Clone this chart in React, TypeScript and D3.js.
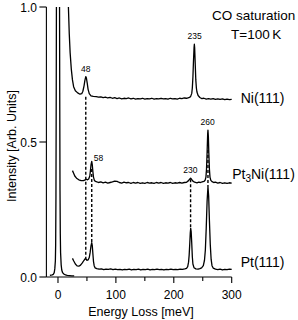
import React from "react";
import * as d3 from "d3";

// ---- Data (energy loss in meV, intensity in arb. units) ----
const elasticPeak: [number, number][] = [
  [-14, 0.006], [-12, 0.007], [-10, 0.008], [-8, 0.010], [-6.5, 0.016], [-5.5, 0.03],
  [-4.5, 0.06], [-4, 0.12], [-3.5, 0.3], [-3, 0.7], [-2.5, 1.2], [-2, 2.0], [-1, 3.5],
  [0, 4.5], [1, 3.5], [2, 2.0], [2.5, 1.2], [3, 0.7], [3.5, 0.32], [4, 0.16], [4.5, 0.09],
  [5.5, 0.045], [6.5, 0.026], [8, 0.016], [10, 0.011], [13, 0.008], [16, 0.006],
  [20, 0.005], [24, 0.004], [28, 0.004],
];

const niSpectrum: [number, number][] = [
  [16.5, 1.2], [18, 1.0], [19.5, 0.9], [21, 0.83], [23, 0.77], [25, 0.73], [27, 0.705],
  [30, 0.69], [34, 0.682], [38, 0.677], [41, 0.679], [43, 0.688], [45, 0.708], [46.5, 0.728],
  [48, 0.742], [49, 0.738], [50.5, 0.718], [52, 0.695], [54, 0.679], [57, 0.671], [61, 0.669],
  [66, 0.668], [70, 0.666], [74, 0.667], [78, 0.664], [82, 0.666], [86, 0.663], [90, 0.665],
  [94, 0.662], [98, 0.664], [102, 0.661], [106, 0.663], [110, 0.660], [114, 0.662],
  [118, 0.661], [122, 0.663], [126, 0.660], [130, 0.662], [134, 0.659], [138, 0.661],
  [142, 0.660], [146, 0.662], [150, 0.659], [154, 0.661], [158, 0.660], [162, 0.662],
  [166, 0.659], [170, 0.661], [174, 0.660], [178, 0.662], [182, 0.660], [186, 0.661],
  [190, 0.659], [194, 0.662], [198, 0.660], [202, 0.661], [206, 0.659], [210, 0.662],
  [214, 0.661], [218, 0.663], [222, 0.662], [226, 0.664], [229, 0.668], [231, 0.68],
  [232, 0.70], [233, 0.74], [234, 0.80], [235, 0.85], [235.5, 0.862], [236, 0.85],
  [237, 0.79], [238, 0.73], [239, 0.70], [240, 0.685], [242, 0.672], [245, 0.665],
  [248, 0.661], [252, 0.662], [256, 0.659], [260, 0.661], [264, 0.659], [268, 0.661],
  [272, 0.658], [276, 0.660], [280, 0.658], [284, 0.660], [288, 0.657], [292, 0.659],
  [296, 0.657], [300, 0.658],
];

const pt3niSpectrum: [number, number][] = [
  [25, 0.394], [27, 0.384], [29, 0.374], [32, 0.366], [36, 0.360], [40, 0.357], [44, 0.357],
  [47, 0.360], [49, 0.362], [51, 0.360], [53, 0.363], [55, 0.374], [56, 0.393], [57, 0.415],
  [58.3, 0.428], [59.3, 0.414], [60.3, 0.39], [61.3, 0.37], [63, 0.357], [66, 0.353],
  [70, 0.350], [74, 0.352], [78, 0.349], [82, 0.351], [86, 0.348], [90, 0.350], [94, 0.352],
  [98, 0.355], [102, 0.354], [106, 0.350], [110, 0.348], [114, 0.351], [118, 0.349],
  [122, 0.350], [126, 0.347], [130, 0.350], [134, 0.348], [138, 0.350], [142, 0.347],
  [146, 0.349], [150, 0.347], [154, 0.350], [158, 0.348], [162, 0.349], [166, 0.347],
  [170, 0.350], [174, 0.348], [178, 0.350], [182, 0.347], [186, 0.349], [190, 0.348],
  [194, 0.350], [198, 0.347], [202, 0.349], [206, 0.348], [210, 0.350], [214, 0.348],
  [218, 0.350], [222, 0.351], [225, 0.356], [227, 0.361], [229, 0.366], [231, 0.361],
  [233, 0.355], [236, 0.351], [240, 0.349], [243, 0.351], [246, 0.350], [249, 0.352],
  [252, 0.354], [254, 0.358], [255.5, 0.37], [256.5, 0.40], [257.5, 0.46], [258.5, 0.53],
  [259, 0.544], [259.7, 0.52], [260.5, 0.46], [261.5, 0.40], [262.5, 0.37], [264, 0.358],
  [266, 0.353], [269, 0.350], [272, 0.351], [276, 0.348], [280, 0.350], [284, 0.347],
  [288, 0.349], [292, 0.347], [296, 0.349], [300, 0.348],
];

const ptSpectrum: [number, number][] = [
  [25, 0.069], [27, 0.060], [30, 0.048], [33, 0.041], [36, 0.040], [39, 0.044], [42, 0.052],
  [45, 0.062], [47, 0.068], [48.5, 0.066], [50, 0.062], [52, 0.063], [54, 0.072],
  [55.5, 0.090], [57, 0.115], [58.3, 0.127], [59.3, 0.115], [60.3, 0.085], [61.3, 0.058],
  [62.5, 0.042], [64, 0.034], [67, 0.031], [71, 0.029], [75, 0.030], [79, 0.027],
  [83, 0.029], [87, 0.028], [91, 0.030], [95, 0.027], [99, 0.029], [103, 0.027],
  [107, 0.028], [111, 0.026], [115, 0.028], [119, 0.027], [123, 0.029], [127, 0.026],
  [131, 0.028], [135, 0.027], [139, 0.029], [143, 0.026], [147, 0.028], [151, 0.027],
  [155, 0.029], [159, 0.026], [163, 0.028], [167, 0.027], [171, 0.029], [175, 0.027],
  [179, 0.028], [183, 0.026], [187, 0.028], [191, 0.027], [195, 0.029], [199, 0.027],
  [203, 0.028], [207, 0.027], [211, 0.029], [215, 0.028], [219, 0.030], [222, 0.032],
  [224, 0.038], [225.5, 0.055], [226.5, 0.08], [227.5, 0.12], [228.5, 0.165], [229.2, 0.18],
  [230, 0.168], [231, 0.125], [232, 0.075], [233, 0.048], [235, 0.034], [238, 0.030],
  [242, 0.029], [245, 0.031], [248, 0.034], [251, 0.042], [253, 0.062], [254.5, 0.10],
  [256, 0.18], [257.5, 0.28], [259, 0.334], [260.2, 0.30], [261.5, 0.21], [263, 0.12],
  [264.5, 0.065], [266, 0.042], [268, 0.033], [272, 0.029], [276, 0.027], [280, 0.029],
  [284, 0.026], [288, 0.028], [292, 0.027], [296, 0.029], [300, 0.028],
];

const xMajorTicks = [0, 100, 200, 300];
const xMinorTicks = [50, 150, 250];
const yTicks = [0.0, 0.5, 1.0];

const peakLabels = ["48", "235", "58", "260", "230"];
const peakLabelEnergies = [48, 236, 70, 258.5, 228.5];
const peakLabelIntensities = [0.742, 0.862, 0.41, 0.544, 0.366];

const dashEnergies = [48, 58.3, 229, 259];
const dashTops = [0.668, 0.40, 0.362, 0.47];
const dashBottoms = [0.066, 0.127, 0.18, 0.334];

const seriesNames = ["Ni(111)", "Pt3Ni(111)", "Pt(111)"];
const seriesBaselines = [0.662, 0.35, 0.028];

const titleLines = ["CO saturation", "T=100\u2009K"];

const W = 298;
const H = 320;
const FONT = "'Liberation Sans', Arial, Helvetica, sans-serif";

export default function App() {
  const x = d3.scaleLinear().domain([-20, 300]).range([46.4, 231.7]);
  const y = d3.scaleLinear().domain([0, 1]).range([277, 7]);
  const line = d3
    .line<[number, number]>()
    .x((d) => x(d[0]))
    .y((d) => y(d[1]));

  const spectra = [elasticPeak, niSpectrum, pt3niSpectrum, ptSpectrum];
  const labelOffsets = [
    { dx: 9, dy: 5 },
    { dx: 0.5, dy: -4 },
    { dx: 9, dy: -2 },
  ];

  return (
    <svg
      width={W}
      height={H}
      style={{ position: "absolute", left: 0, top: 0, background: "#fff" }}
      fontFamily={FONT}
    >
      <defs>
        <clipPath id="plotClip">
          <rect x={40} y={y(1)} width={210} height={y(0) - y(1) + 2} />
        </clipPath>
      </defs>

      {/* dashed guide lines */}
      {dashEnergies.map((e, i) => (
        <line
          key={"d" + i}
          x1={x(e)}
          x2={x(e)}
          y1={y(dashTops[i])}
          y2={y(dashBottoms[i])}
          stroke="#000"
          strokeWidth={1.4}
          strokeDasharray="3,2"
        />
      ))}

      {/* spectra */}
      <g clipPath="url(#plotClip)">
        {spectra.map((s, i) => (
          <path
            key={"s" + i}
            d={line(s) || ""}
            fill="none"
            stroke="#000"
            strokeWidth={1.3}
            strokeLinejoin="round"
          />
        ))}
      </g>

      {/* axes */}
      <g stroke="#000" strokeWidth={1.1} fill="none">
        <line x1={x(-20)} x2={x(300)} y1={y(0)} y2={y(0)} />
        <line x1={x(-20)} x2={x(-20)} y1={y(0)} y2={y(1)} />
        {xMajorTicks.map((t) => (
          <line key={"xm" + t} x1={x(t)} x2={x(t)} y1={y(0)} y2={y(0) + 6} />
        ))}
        {xMinorTicks.map((t) => (
          <line key={"xn" + t} x1={x(t)} x2={x(t)} y1={y(0)} y2={y(0) + 4} />
        ))}
        {yTicks.map((t) => (
          <line key={"yt" + t} x1={x(-20) - 7} x2={x(-20)} y1={y(t)} y2={y(t)} />
        ))}
      </g>

      {/* tick labels */}
      <g fontSize={12} fill="#000">
        {xMajorTicks.map((t) => (
          <text key={"xl" + t} x={x(t)} y={y(0) + 22} textAnchor="middle">
            {t}
          </text>
        ))}
        {yTicks.map((t) => (
          <text key={"yl" + t} x={37} y={y(t) + 4.5} textAnchor="end">
            {d3.format(".1f")(t)}
          </text>
        ))}
      </g>

      {/* axis titles */}
      <text x={141} y={316} fontSize={12.5} textAnchor="middle">
        Energy Loss [meV]
      </text>
      <text
        transform={`translate(16,${146}) rotate(-90)`}
        fontSize={12.5}
        textAnchor="middle"
      >
        Intensity [Arb. Units]
      </text>

      {/* peak labels */}
      <g fontSize={8.5} textAnchor="middle">
        {peakLabels.map((p, i) => (
          <text
            key={"p" + i}
            x={x(peakLabelEnergies[i])}
            y={y(peakLabelIntensities[i]) - 5}
          >
            {p}
          </text>
        ))}
      </g>

      {/* series names */}
      <g fontSize={14}>
        {seriesNames.map((n, i) => {
          const tx = x(300) + labelOffsets[i].dx;
          const ty = y(seriesBaselines[i]) + labelOffsets[i].dy;
          if (n === "Pt3Ni(111)") {
            return (
              <text key={n} x={tx} y={ty}>
                Pt
                <tspan fontSize={10} dy={3}>3</tspan>
                <tspan dy={-3}>Ni(111)</tspan>
              </text>
            );
          }
          return (
            <text key={n} x={tx} y={ty}>
              {n}
            </text>
          );
        })}
      </g>

      {/* title */}
      <text x={212} y={20} fontSize={13.5}>
        {titleLines[0]}
      </text>
      <text x={231} y={39} fontSize={13.5}>
        {titleLines[1]}
      </text>
    </svg>
  );
}
